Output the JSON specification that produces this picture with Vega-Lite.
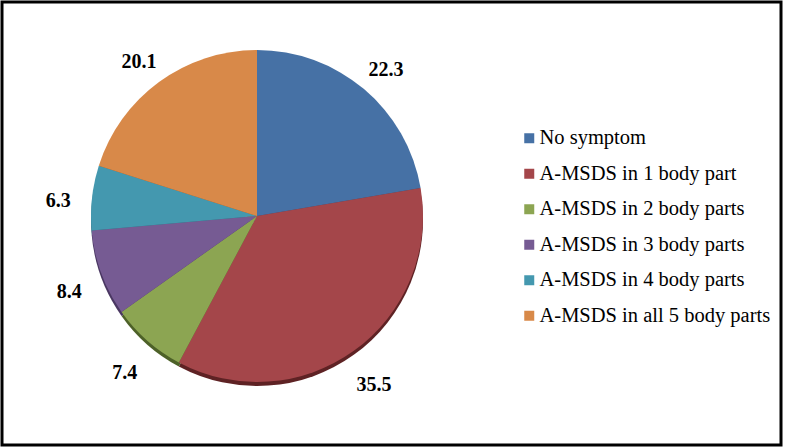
{
  "$schema": "https://vega.github.io/schema/vega-lite/v6.json",
  "width": 792,
  "height": 448,
  "autosize": {"type": "fit", "contains": "padding"},
  "padding": {"left": 2, "top": 2, "right": 8, "bottom": 3},
  "background": "white",
  "config": {
    "view": {"stroke": "black", "strokeWidth": 3},
    "font": "'Liberation Serif', 'Times New Roman', serif"
  },
  "data": {
    "values": [
      {"cat": "No symptom", "value": 22.3, "order": 1, "label": "22.3"},
      {"cat": "A-MSDS in 1 body part", "value": 35.5, "order": 2, "label": "35.5"},
      {"cat": "A-MSDS in 2 body parts", "value": 7.4, "order": 3, "label": "7.4"},
      {"cat": "A-MSDS in 3 body parts", "value": 8.4, "order": 4, "label": "8.4"},
      {"cat": "A-MSDS in 4 body parts", "value": 6.3, "order": 5, "label": "6.3"},
      {"cat": "A-MSDS in all 5 body parts", "value": 20.1, "order": 6, "label": "20.1"}
    ]
  },
  "layer": [
    {
      "mark": {"type": "point", "opacity": 0},
      "encoding": {
        "x": {"field": "order", "type": "quantitative", "axis": null},
        "y": {"field": "value", "type": "quantitative", "axis": null}
      }
    },
    {
      "mark": {"type": "arc", "outerRadius": 166, "x": 255, "y": 218},
      "encoding": {
        "theta": {"field": "value", "type": "quantitative", "stack": true},
        "order": {"field": "order", "type": "quantitative"},
        "color": {
          "field": "cat",
          "type": "nominal",
          "sort": null,
          "scale": {
            "domain": ["No symptom", "A-MSDS in 1 body part", "A-MSDS in 2 body parts", "A-MSDS in 3 body parts", "A-MSDS in 4 body parts", "A-MSDS in all 5 body parts"],
            "range": ["#2f4f78", "#5e2224", "#4d6128", "#4a3762", "#2b6577", "#9a5a28"]
          },
          "legend": null
        }
      }
    },
    {
      "mark": {"type": "arc", "outerRadius": 166, "x": 255, "y": 214},
      "encoding": {
        "theta": {"field": "value", "type": "quantitative", "stack": true},
        "order": {"field": "order", "type": "quantitative"},
        "color": {
          "field": "cat",
          "type": "nominal",
          "sort": null,
          "scale": {
            "domain": ["No symptom", "A-MSDS in 1 body part", "A-MSDS in 2 body parts", "A-MSDS in 3 body parts", "A-MSDS in 4 body parts", "A-MSDS in all 5 body parts"],
            "range": ["#4671A5", "#A4464A", "#8CA552", "#765B93", "#4498AF", "#D88949"]
          },
          "legend": {
            "title": null,
            "orient": "none",
            "legendX": 517,
            "legendY": 126,
            "symbolType": "square",
            "symbolSize": 100,
            "symbolStrokeWidth": 0,
            "labelFontSize": 20.5,
            "labelFont": "'Liberation Serif', 'Times New Roman', serif",
            "labelColor": "black",
            "labelLimit": 400,
            "labelOffset": 0,
            "rowPadding": 14.5,
            "padding": 0
          }
        }
      }
    },
    {
      "mark": {"type": "text", "radius": 200, "x": 255, "y": 221, "font": "'Liberation Serif', 'Times New Roman', serif", "fontSize": 20, "fontWeight": "bold", "color": "black"},
      "encoding": {
        "theta": {"field": "value", "type": "quantitative", "stack": true},
        "order": {"field": "order", "type": "quantitative"},
        "text": {"field": "label", "type": "nominal"}
      }
    }
  ],
  "resolve": {"scale": {"color": "independent"}}
}
